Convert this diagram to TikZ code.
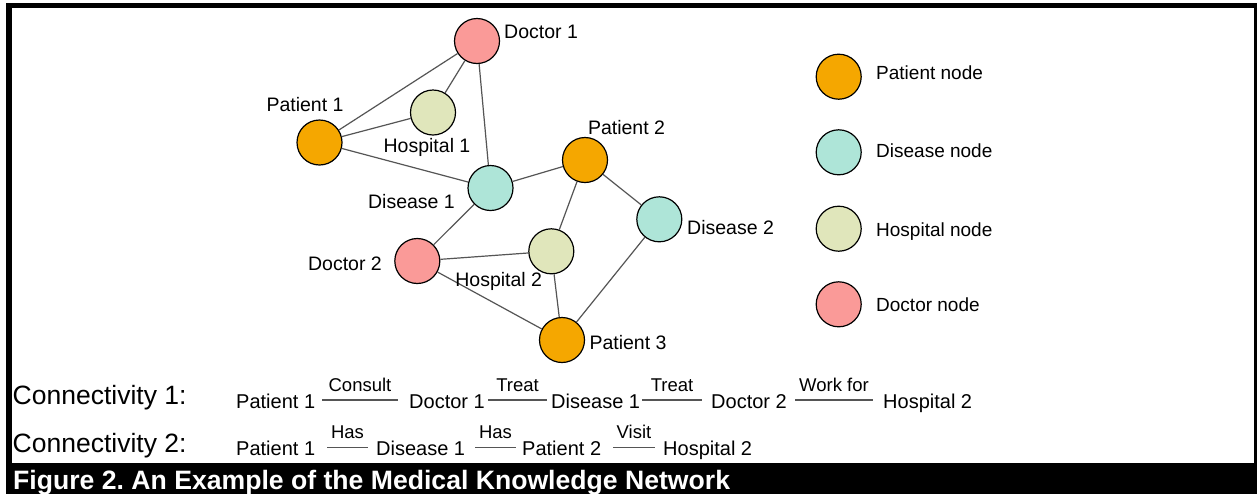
\documentclass[tikz,border=0pt]{standalone}
\usepackage{fontspec}
\setmainfont{Liberation Sans}
\frenchspacing
\definecolor{patientc}{HTML}{F5A700}
\definecolor{diseasec}{HTML}{AEE5D8}
\definecolor{hospitalc}{HTML}{E0E6BB}
\definecolor{doctorc}{HTML}{FA9A98}
\definecolor{edgec}{HTML}{555555}
\begin{document}
\begin{tikzpicture}[x=1pt,y=-1pt,
  ent/.style={circle,draw=black,line width=1.2pt,minimum size=45pt,inner sep=0pt},
  patient/.style={ent,fill=patientc},
  disease/.style={ent,fill=diseasec},
  hospital/.style={ent,fill=hospitalc},
  doctor/.style={ent,fill=doctorc},
  lbl/.style={font=\fontsize{19.5}{22}\selectfont,inner sep=0pt},
  leg/.style={font=\fontsize{19}{22}\selectfont,inner sep=0pt,anchor=base west},
  conn/.style={font=\fontsize{26.5}{30}\selectfont,inner sep=0pt,anchor=base west},
  chain/.style={font=\fontsize{20}{24}\selectfont,inner sep=0pt,anchor=base west},
  rlbl/.style={font=\fontsize{18.5}{22}\selectfont,inner sep=0pt,above=8pt,midway},
  edge/.style={draw=edgec,line width=1.2pt},
  rel/.style={draw=edgec,line width=1.3pt},
  title/.style={font=\bfseries\fontsize{26.6}{30}\selectfont,text=white,inner sep=0pt,anchor=base west}]
\useasboundingbox (0,0) rectangle (1257,496);
\fill[white] (0,0) rectangle (1257,496);
\fill[black] (6,3) rectangle (1257,494);
\fill[white] (12,8) rectangle (1253.5,463);

% graph nodes
\node[doctor]   (dr1) at (477,41) {};
\node[patient]  (pt1) at (319.5,142.5) {};
\node[hospital] (hs1) at (433,112.5) {};
\node[disease]  (ds1) at (490.5,188) {};
\node[patient]  (pt2) at (585,160) {};
\node[disease]  (ds2) at (659.3,219.3) {};
\node[doctor]   (dr2) at (417.3,261) {};
\node[hospital] (hs2) at (551.3,251.3) {};
\node[patient]  (pt3) at (562,340) {};

% edges
\draw[edge] (pt1) -- (dr1);
\draw[edge] (pt1) -- (hs1);
\draw[edge] (pt1) -- (ds1);
\draw[edge] (hs1) -- (dr1);
\draw[edge] (dr1) -- (ds1);
\draw[edge] (ds1) -- (pt2);
\draw[edge] (ds1) -- (dr2);
\draw[edge] (pt2) -- (hs2);
\draw[edge] (pt2) -- (ds2);
\draw[edge] (dr2) -- (hs2);
\draw[edge] (dr2) -- (pt3);
\draw[edge] (hs2) -- (pt3);
\draw[edge] (ds2) -- (pt3);

% graph labels
\node[lbl,anchor=base west] (ldr1) at (504,38) {Doctor 1};
\node[lbl,anchor=base] (lpt1) at (305,111) {Patient 1};
\node[lbl,anchor=base] (lhs1) at (427,152.5) {Hospital 1};
\node[lbl,anchor=base] (lds1) at (411.5,208.7) {Disease 1};
\node[lbl,anchor=base] (lpt2) at (626.5,134.5) {Patient 2};
\node[lbl,anchor=base west] (lds2) at (687,234.3) {Disease 2};
\node[lbl,anchor=base east] (ldr2) at (382,270.3) {Doctor 2};
\node[lbl,anchor=base] (lhs2) at (498.7,286.3) {Hospital 2};
\node[lbl,anchor=base west] (lpt3) at (589.3,349.7) {Patient 3};

% legend
\node[patient]  (gpt) at (838.7,76.7) {};
\node[disease]  (gds) at (838.7,152.3) {};
\node[hospital] (ghs) at (838.7,228.7) {};
\node[doctor]   (gdr) at (838.7,304.3) {};
\node[leg] (tpt) at (876,79.3) {Patient node};
\node[leg] (tds) at (876,157.7) {Disease node};
\node[leg] (ths) at (876,236.3) {Hospital node};
\node[leg] (tdr) at (876,311) {Doctor node};

% connectivity 1
\node[conn] (cn1) at (12.5,404) {Connectivity 1:};
\node[chain] (a1) at (236,408.5) {Patient 1};
\node[chain] (a2) at (409,408.5) {Doctor 1};
\node[chain] (a3) at (551,408.5) {Disease 1};
\node[chain] (a4) at (711,408.5) {Doctor 2};
\node[chain] (a5) at (883,408.5) {Hospital 2};
\coordinate (r1a) at (322,400); \coordinate (r1b) at (398,400);
\coordinate (r2a) at (488,400); \coordinate (r2b) at (547,400);
\coordinate (r3a) at (642,400); \coordinate (r3b) at (702,400);
\coordinate (r4a) at (795,400); \coordinate (r4b) at (873,400);
\draw[rel] (r1a) -- node[rlbl] (l1) {Consult} (r1b);
\draw[rel] (r2a) -- node[rlbl] (l2) {Treat} (r2b);
\draw[rel] (r3a) -- node[rlbl] (l3) {Treat} (r3b);
\draw[rel] (r4a) -- node[rlbl] (l4) {Work for} (r4b);

% connectivity 2
\node[conn] (cn2) at (12.5,452) {Connectivity 2:};
\node[chain] (b1) at (236,455) {Patient 1};
\node[chain] (b2) at (376,455) {Disease 1};
\node[chain] (b3) at (522,455) {Patient 2};
\node[chain] (b4) at (663,455) {Hospital 2};
\coordinate (s1a) at (327,447.5); \coordinate (s1b) at (368,447.5);
\coordinate (s2a) at (475,447.5); \coordinate (s2b) at (516,447.5);
\coordinate (s3a) at (613,447.5); \coordinate (s3b) at (655,447.5);
\draw[rel] (s1a) -- node[rlbl] (m1) {Has} (s1b);
\draw[rel] (s2a) -- node[rlbl] (m2) {Has} (s2b);
\draw[rel] (s3a) -- node[rlbl] (m3) {Visit} (s3b);

% title
\node[title] (ttl) at (13,489) {Figure 2. An Example of the Medical Knowledge Network};
\end{tikzpicture}
\end{document}
